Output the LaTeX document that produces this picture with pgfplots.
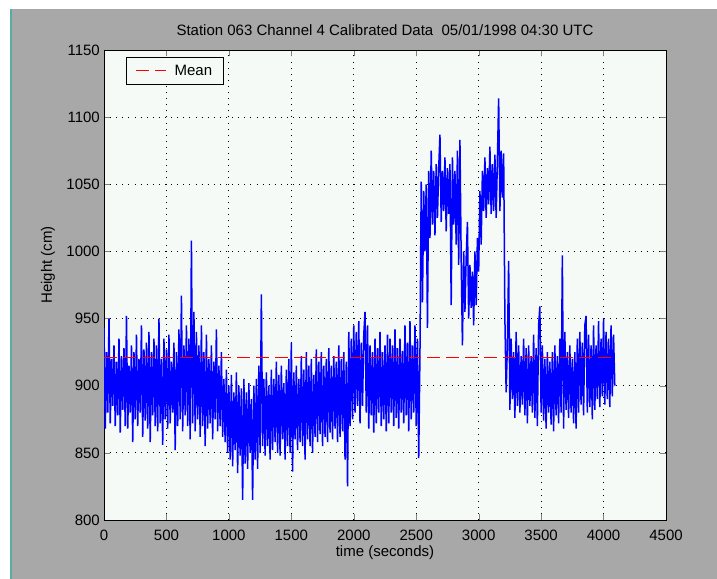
\documentclass[border=0pt]{standalone}
\usepackage{fontspec}
\setmainfont{Liberation Sans}
\usepackage{pgfplots}
\pgfplotsset{compat=1.18}
\definecolor{figgray}{RGB}{168,168,168}
\definecolor{axbg}{RGB}{245,250,246}
\definecolor{edgeteal}{RGB}{90,170,165}
\definecolor{meanred}{RGB}{255,0,0}
\definecolor{datablue}{RGB}{0,0,255}
\tikzset{meanstyle/.style={color=meanred, line width=1.5bp, dash pattern=on 13bp off 6bp}}
\newcommand{\ff}{\fontsize{15bp}{18bp}\selectfont}
\begin{document}
\begin{tikzpicture}
\fill[white] (0bp,0bp) rectangle (717bp,579bp);
\fill[figgray] (12bp,0bp) rectangle (717bp,570bp);
\fill[edgeteal] (10bp,0bp) rectangle (12bp,570bp);
\begin{axis}[
  at={(104bp,59bp)}, anchor=south west,
  scale only axis, width=562bp, height=470bp,
  xmin=0, xmax=4500, ymin=800, ymax=1150,
  xtick={0,500,...,4500}, ytick={800,850,...,1150},
  /pgf/number format/assume math mode=true,
  /pgf/number format/set thousands separator={},
  axis background/.style={fill=axbg},
  axis line style={line width=0.8bp},
  major tick length=6bp,
  tick align=inside, tick pos=both,
  grid=major,
  major grid style={black, line width=0.9bp, dash pattern=on 0.9bp off 5.2bp},
  ticklabel style={font=\ff},
  xticklabel style={anchor=base, yshift=-20bp},
  yticklabel style={anchor=east, inner sep=0pt, xshift=-4bp},
  title={Station 063 Channel 4 Calibrated Data\ \ 05/01/1998 04:30 UTC},
  title style={font=\ff, at={(0.5,1)}, anchor=base, yshift=9bp},
  xlabel={time (seconds)},
  xlabel style={font=\ff, at={(0.5,0)}, anchor=base, yshift=-36bp},
  ylabel={Height (cm)},
  ylabel style={font=\ff, at={(-0.0996,0.5426)}, anchor=center, rotate=0},
]
\addplot[color=datablue, line width=1.5bp, forget plot] table[row sep=\\] {
t v\\
0 943\\ 10 868\\ 20 925\\ 30 880\\ 40 950\\ 50 872\\ 60 920\\ 70 885\\ 80 930\\ 90 870\\
100 918\\ 110 878\\ 120 935\\ 130 865\\ 140 922\\ 150 882\\ 160 928\\ 170 870\\ 180 952\\ 190 868\\
200 915\\ 210 880\\ 220 930\\ 230 858\\ 240 925\\ 250 875\\ 260 938\\ 270 870\\ 280 920\\ 290 880\\
300 945\\ 310 862\\ 320 927\\ 330 874\\ 340 932\\ 350 868\\ 360 940\\ 370 858\\ 380 925\\ 390 878\\
400 935\\ 410 870\\ 420 930\\ 430 866\\ 440 950\\ 450 872\\ 460 920\\ 470 856\\ 480 935\\ 490 875\\
500 927\\ 510 868\\ 520 938\\ 530 872\\ 540 918\\ 550 880\\ 560 932\\ 570 852\\ 580 925\\ 590 870\\
600 942\\ 610 875\\ 620 967\\ 630 866\\ 640 930\\ 650 878\\ 660 945\\ 670 870\\ 680 935\\ 690 860\\
700 1008\\ 710 872\\ 720 955\\ 730 866\\ 740 940\\ 750 875\\ 760 930\\ 770 862\\ 780 945\\ 790 870\\
800 925\\ 810 855\\ 820 938\\ 830 868\\ 840 920\\ 850 872\\ 860 930\\ 870 860\\ 880 918\\ 890 875\\
900 942\\ 910 866\\ 920 915\\ 930 870\\ 940 925\\ 950 862\\
960 905\\ 970 858\\ 980 912\\ 990 850\\ 1000 900\\ 1010 845\\ 1020 908\\ 1030 840\\ 1040 895\\ 1050 852\\
1060 910\\ 1070 835\\ 1080 900\\ 1090 848\\ 1100 898\\ 1110 815\\ 1120 905\\ 1130 842\\ 1140 895\\ 1150 838\\
1160 902\\ 1170 850\\ 1180 890\\ 1190 815\\ 1200 900\\ 1210 845\\ 1220 905\\ 1230 838\\ 1240 915\\ 1250 850\\
1260 968\\ 1270 855\\
1280 905\\ 1290 848\\ 1300 910\\ 1310 855\\ 1320 900\\ 1330 845\\ 1340 912\\ 1350 852\\ 1360 905\\ 1370 858\\
1380 918\\ 1390 850\\ 1400 908\\ 1410 848\\ 1420 915\\ 1430 860\\ 1440 902\\ 1450 845\\ 1460 912\\ 1470 855\\
1480 920\\ 1490 850\\ 1500 932\\ 1510 836\\ 1520 910\\ 1530 860\\ 1540 915\\ 1550 852\\ 1560 905\\ 1570 858\\
1580 922\\ 1590 855\\ 1600 912\\ 1610 845\\ 1620 925\\ 1630 860\\ 1640 915\\ 1650 855\\ 1660 920\\ 1670 850\\
1680 908\\ 1690 862\\ 1700 927\\ 1710 858\\ 1720 918\\ 1730 864\\ 1740 925\\ 1750 855\\ 1760 915\\ 1770 862\\
1780 920\\ 1790 858\\ 1800 928\\ 1810 865\\ 1820 915\\ 1830 860\\ 1840 922\\ 1850 868\\ 1860 918\\ 1870 858\\
1880 930\\ 1890 862\\ 1900 920\\ 1910 866\\ 1920 925\\ 1930 845\\ 1940 918\\ 1950 825\\ 1960 940\\ 1970 870\\
1980 935\\ 1990 875\\ 2000 945\\
2010 880\\ 2020 940\\ 2030 885\\ 2040 948\\ 2050 872\\ 2060 932\\ 2070 885\\ 2080 938\\ 2090 955\\ 2100 880\\
2110 945\\ 2120 868\\ 2130 930\\ 2140 878\\ 2150 925\\ 2160 865\\ 2170 935\\ 2180 872\\ 2190 928\\ 2200 880\\
2210 940\\ 2220 870\\ 2230 925\\ 2240 875\\ 2250 930\\ 2260 866\\ 2270 938\\ 2280 872\\ 2290 935\\ 2300 880\\
2310 930\\ 2320 870\\ 2330 942\\ 2340 876\\ 2350 928\\ 2360 868\\ 2370 935\\ 2380 880\\ 2390 926\\ 2400 872\\
2410 945\\ 2420 878\\ 2430 932\\ 2440 866\\ 2450 948\\ 2460 875\\ 2470 930\\ 2480 880\\ 2490 945\\ 2500 870\\
2510 935\\ 2520 846\\ 2530 925\\
2540 1052\\ 2550 962\\ 2560 1045\\ 2570 1000\\ 2580 1050\\ 2590 943\\ 2600 1060\\ 2610 1010\\ 2620 1075\\ 2630 1020\\
2640 1060\\ 2650 1012\\ 2660 1065\\ 2670 1025\\ 2680 1062\\ 2690 1087\\ 2700 1022\\ 2710 1060\\ 2720 1030\\ 2730 1070\\
2740 1015\\ 2750 1062\\ 2760 1028\\ 2770 1065\\ 2780 960\\ 2790 1070\\ 2800 1020\\ 2810 1060\\ 2820 1005\\ 2830 1075\\
2840 990\\ 2850 1083\\ 2860 995\\
2870 930\\ 2880 1000\\ 2890 955\\ 2900 995\\ 2910 1022\\ 2920 950\\ 2930 990\\ 2940 958\\ 2950 985\\ 2960 945\\
2970 1000\\ 2980 960\\
2990 1010\\ 3000 985\\ 3010 1045\\ 3020 1005\\ 3030 1060\\ 3040 1030\\ 3050 1070\\ 3060 1025\\ 3070 1062\\ 3080 1035\\
3090 1078\\ 3100 1028\\ 3110 1065\\ 3120 1030\\ 3130 1072\\ 3140 1025\\ 3150 1068\\ 3160 1114\\ 3170 1030\\ 3180 1075\\
3190 1040\\ 3200 1073\\ 3210 950\\
3220 895\\ 3230 930\\ 3240 993\\ 3250 882\\ 3260 935\\ 3270 890\\ 3280 925\\ 3290 876\\ 3300 940\\ 3310 885\\
3320 930\\ 3330 880\\ 3340 922\\ 3350 886\\ 3360 935\\ 3370 878\\ 3380 928\\ 3390 872\\ 3400 930\\ 3410 885\\
3420 922\\ 3430 880\\ 3440 938\\ 3450 876\\ 3460 928\\ 3470 870\\ 3480 945\\ 3490 959\\ 3500 880\\ 3510 930\\
3520 874\\ 3530 920\\ 3540 868\\ 3550 925\\ 3560 880\\ 3570 918\\ 3580 871\\ 3590 925\\ 3600 866\\ 3610 930\\
3620 878\\ 3630 922\\ 3640 872\\ 3650 935\\ 3660 880\\ 3670 997\\ 3680 868\\ 3690 940\\ 3700 882\\ 3710 925\\
3720 876\\ 3730 930\\ 3740 880\\ 3750 920\\ 3760 872\\ 3770 925\\ 3780 868\\ 3790 935\\ 3800 880\\ 3810 940\\
3820 886\\ 3830 932\\ 3840 878\\ 3850 945\\ 3860 952\\ 3870 880\\ 3880 938\\ 3890 884\\ 3900 930\\ 3910 875\\
3920 945\\ 3930 882\\ 3940 930\\ 3950 890\\ 3960 948\\ 3970 884\\ 3980 935\\ 3990 892\\ 4000 950\\ 4010 886\\
4020 940\\ 4030 890\\ 4040 935\\ 4050 884\\ 4060 945\\ 4070 892\\ 4080 938\\ 4090 900\\
};
\end{axis}
\begin{axis}[
  at={(104bp,59bp)}, anchor=south west,
  scale only axis, width=562bp, height=470bp,
  xmin=0, xmax=4500, ymin=800, ymax=1150,
  hide axis,
  legend style={at={(0.039,0.985)}, anchor=north west, draw=black, fill=axbg, font=\ff, inner xsep=9bp, inner ysep=5.5bp},
  legend image code/.code={\draw[meanstyle] (0bp,0bp) -- (30bp,0bp); \path (36bp,0bp);},
]
\addplot[color=meanred, line width=1.5bp, dash pattern=on 13bp off 6bp] table[row sep=\\] {
t v\\
0 921\\
4096 921\\
};
\addlegendentry{Mean}
\end{axis}
\pgfresetboundingbox
\useasboundingbox (0bp,0bp) rectangle (717bp,579bp);
\end{tikzpicture}
\end{document}
